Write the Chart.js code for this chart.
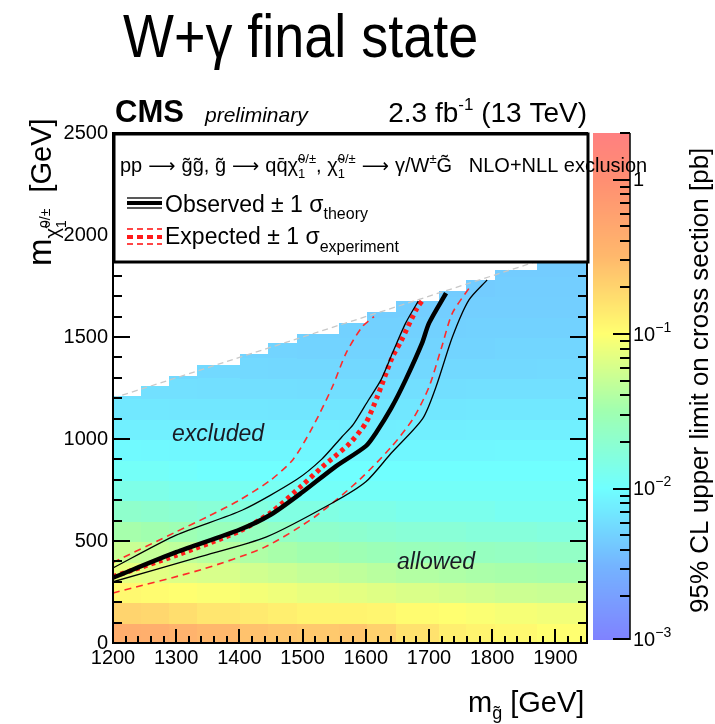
<!DOCTYPE html>
<html>
<head>
<meta charset="utf-8">
<script src="https://cdn.jsdelivr.net/npm/chart.js@4.4.0/dist/chart.umd.min.js"></script>
<style>
  body { margin: 0; background: #fff; }
  #wrap { width: 715px; height: 724px; position: relative; }
</style>
</head>
<body>
<div id="wrap"><canvas id="c" width="715" height="724"></canvas></div>
<script>
// limit map binning: gluino mass column edges and top of each column (GeV)
const gluinoEdges = [1200, 1245, 1290, 1334, 1401, 1446, 1492, 1558, 1602, 1648, 1716, 1760, 1806, 1872, 1950];
const columnTop = [1207, 1256, 1305, 1358, 1412, 1466, 1513, 1567, 1621, 1673, 1722, 1775, 1825, 1900];
// lower edge of each neutralino mass row (GeV), rows are 100 GeV high
const neutralinoRows = [0, 100, 200, 300, 400, 500, 600, 700, 800, 900, 1000, 1100, 1200, 1300, 1400, 1500, 1600, 1700, 1800];
// 95% CL upper limit on cross section [pb], one line per neutralino row
const limitMap = [
  [0.42, 0.40, 0.36, 0.32, 0.27, 0.25, 0.24, 0.25, 0.21, 0.16, 0.13, 0.12, 0.11, 0.10],
  [0.20, 0.19, 0.17, 0.15, 0.14, 0.13, 0.12, 0.12, 0.115, 0.105, 0.10, 0.095, 0.09, 0.085],
  [0.11, 0.105, 0.10, 0.095, 0.088, 0.082, 0.076, 0.072, 0.068, 0.064, 0.06, 0.057, 0.054, 0.052],
  [0.075, 0.07, 0.066, 0.062, 0.057, 0.053, 0.049, 0.046, 0.043, 0.040, 0.038, 0.036, 0.035, 0.034],
  [0.052, 0.049, 0.046, 0.042, 0.038, 0.035, 0.032, 0.030, 0.028, 0.027, 0.026, 0.025, 0.024, 0.023],
  [0.034, 0.032, 0.030, 0.027, 0.025, 0.023, 0.021, 0.020, 0.019, 0.018, 0.018, 0.017, 0.017, 0.016],
  [0.021, 0.020, 0.019, 0.018, 0.016, 0.015, 0.015, 0.014, 0.014, 0.013, 0.013, 0.013, 0.012, 0.012],
  [0.014, 0.014, 0.013, 0.013, 0.012, 0.012, 0.011, 0.011, 0.011, 0.011, 0.011, 0.011, 0.011, 0.011],
  [0.011, 0.011, 0.0105, 0.010, 0.010, 0.010, 0.010, 0.010, 0.010, 0.010, 0.010, 0.010, 0.010, 0.010],
  [0.0092, 0.0091, 0.0090, 0.0090, 0.0089, 0.0089, 0.0088, 0.0088, 0.0088, 0.0088, 0.0089, 0.0089, 0.0090, 0.0090],
  [0.0080, 0.0080, 0.0079, 0.0079, 0.0078, 0.0078, 0.0078, 0.0077, 0.0077, 0.0078, 0.0078, 0.0079, 0.0079, 0.0080],
  [0.0070, 0.0070, 0.0069, 0.0069, 0.0069, 0.0068, 0.0068, 0.0068, 0.0068, 0.0069, 0.0069, 0.0070, 0.0070, 0.0070],
  [0.0063, 0.0062, 0.0062, 0.0061, 0.0061, 0.0061, 0.0060, 0.0060, 0.0060, 0.0061, 0.0061, 0.0062, 0.0062, 0.0062],
  [0.0057, 0.0057, 0.0056, 0.0056, 0.0056, 0.0055, 0.0055, 0.0055, 0.0055, 0.0055, 0.0056, 0.0056, 0.0056, 0.0057],
  [0.0053, 0.0053, 0.0053, 0.0052, 0.0052, 0.0052, 0.0051, 0.0051, 0.0051, 0.0052, 0.0052, 0.0052, 0.0053, 0.0053],
  [0.0050, 0.0050, 0.0050, 0.0050, 0.0049, 0.0049, 0.0049, 0.0049, 0.0049, 0.0049, 0.0049, 0.0050, 0.0050, 0.0050],
  [0.0048, 0.0048, 0.0048, 0.0048, 0.0047, 0.0047, 0.0047, 0.0047, 0.0047, 0.0047, 0.0047, 0.0048, 0.0048, 0.0048],
  [0.0047, 0.0047, 0.0047, 0.0046, 0.0046, 0.0046, 0.0046, 0.0046, 0.0046, 0.0046, 0.0046, 0.0046, 0.0047, 0.0047],
  [0.0046, 0.0046, 0.0046, 0.0045, 0.0045, 0.0045, 0.0045, 0.0045, 0.0045, 0.0045, 0.0045, 0.0045, 0.0046, 0.0046]
];

// exclusion contours (m_gluino, m_neutralino) in GeV
const obsX = [1200, 1300, 1400, 1450, 1500, 1550, 1600, 1616, 1640, 1663, 1689, 1700, 1727];
const obsY = [320, 445, 555, 630, 740, 860, 965, 1030, 1150, 1290, 1470, 1568, 1715];
const obsUpX = [1200, 1300, 1405, 1490, 1530, 1562, 1580, 1604, 1624, 1642, 1663, 1683];
const obsUpY = [368, 529, 652, 800, 900, 1010, 1070, 1190, 1290, 1420, 1568, 1676];
const obsDnX = [1200, 1337, 1443, 1547, 1600, 1640, 1690, 1711, 1737, 1763, 1792];
const obsDnY = [300, 422, 520, 686, 790, 930, 1100, 1255, 1500, 1681, 1780];
const expX = [1200, 1300, 1400, 1450, 1500, 1531, 1550, 1575, 1600, 1618, 1642, 1655, 1681, 1690];
const expY = [325, 430, 548, 640, 775, 863, 912, 980, 1078, 1206, 1402, 1475, 1642, 1681];
const expUpX = [1200, 1300, 1350, 1400, 1450, 1485, 1516, 1547, 1569, 1594, 1613];
const expUpY = [395, 545, 620, 700, 800, 900, 1059, 1255, 1422, 1549, 1600];
const expDnX = [1200, 1340, 1440, 1520, 1590, 1640, 1675, 1700, 1720, 1737, 1767];
const expDnY = [245, 360, 470, 620, 800, 960, 1100, 1255, 1450, 1617, 1755];
const diagX = [1200, 1950];
const diagY = [1200, 1950];

// colour axis
const zTicks = [1, 0.1, 0.01, 0.001];
const zTickBase = ['1', '10', '10', '10'];
const zTickExp = ['', '\u22121', '\u22122', '\u22123'];

const FONT = '"Liberation Sans", Arial, Helvetica, sans-serif';
const ARROW_FONT = '"DejaVu Sans", sans-serif';

// pastel rainbow palette, stops in log10(pb)
const paletteStops = [
  [-3.0, [128, 128, 255]],
  [-2.5, [116, 180, 255]],
  [-2.0, [112, 255, 255]],
  [-1.5, [160, 255, 176]],
  [-1.0, [255, 255, 112]],
  [-0.5, [255, 184, 108]],
  [0.0, [255, 142, 114]],
  [0.3, [255, 128, 128]]
];

function colorFor(v) {
  const lv = Math.log10(v);
  if (lv <= paletteStops[0][0]) return 'rgb(' + paletteStops[0][1].join(',') + ')';
  for (let i = 1; i < paletteStops.length; i++) {
    const a = paletteStops[i - 1], b = paletteStops[i];
    if (lv <= b[0]) {
      const f = (lv - a[0]) / (b[0] - a[0]);
      const c = a[1].map((x, k) => Math.round(x + (b[1][k] - x) * f));
      return 'rgb(' + c.join(',') + ')';
    }
  }
  return 'rgb(' + paletteStops[paletteStops.length - 1][1].join(',') + ')';
}

function pts(xs, ys) {
  return xs.map((x, i) => ({x: x, y: ys[i]}));
}

// draws a run of text pieces: {t, size, dy, style, family} or {sup, sub, size, up, down}
function rich(ctx, x, y, parts) {
  let cx = x;
  parts.forEach(p => {
    if (p.sup !== undefined || p.sub !== undefined) {
      ctx.font = p.size + 'px ' + FONT;
      let w = 0;
      if (p.sup) { ctx.fillText(p.sup, cx, y - p.up); w = Math.max(w, ctx.measureText(p.sup).width); }
      if (p.sub) { ctx.fillText(p.sub, cx, y + p.down); w = Math.max(w, ctx.measureText(p.sub).width); }
      cx += w;
    } else {
      ctx.font = (p.style || '') + ' ' + p.size + 'px ' + (p.family || FONT);
      ctx.fillText(p.t, cx, y + (p.dy || 0));
      cx += ctx.measureText(p.t).width;
    }
  });
  return cx - x;
}

function richWidth(ctx, parts) {
  let w = 0;
  parts.forEach(p => { ctx.font = p.size + 'px ' + FONT; w += ctx.measureText(p.t).width; });
  return w;
}

// tick marks as thin filled rectangles
function hTick(ctx, x0, x1, y, w) {
  ctx.fillRect(Math.min(x0, x1), Math.round(y) - w / 2, Math.abs(x1 - x0), w);
}
function vTick(ctx, x, y0, y1, w) {
  ctx.fillRect(Math.round(x) - w / 2, Math.min(y0, y1), w, Math.abs(y1 - y0));
}

const heatmap = {
  id: 'heatmap',
  beforeDatasetsDraw(chart) {
    const ctx = chart.ctx, xs = chart.scales.x, ys = chart.scales.y;
    ctx.save();
    neutralinoRows.forEach((lo, r) => {
      for (let c = 0; c < gluinoEdges.length - 1; c++) {
        if (lo >= columnTop[c]) continue;
        const hi = Math.min(lo + 100, columnTop[c]);
        const x0 = xs.getPixelForValue(gluinoEdges[c]);
        const x1 = xs.getPixelForValue(gluinoEdges[c + 1]);
        const y0 = ys.getPixelForValue(lo);
        const y1 = ys.getPixelForValue(hi);
        ctx.fillStyle = colorFor(limitMap[r][c]);
        ctx.fillRect(Math.floor(x0), Math.floor(y1), Math.ceil(x1 - x0) + 1, Math.ceil(y0 - y1) + 1);
      }
    });
    ctx.restore();
  }
};

const decorations = {
  id: 'decorations',
  afterDraw(chart) {
    const ctx = chart.ctx, xs = chart.scales.x, ys = chart.scales.y, zs = chart.scales.z;
    const a = chart.chartArea;
    ctx.save();
    ctx.setLineDash([]);
    ctx.fillStyle = '#000';

    // inward ticks on the frame
    for (let v = 1200; v <= 1940; v += 20) {
      const px = xs.getPixelForValue(v);
      vTick(ctx, px, a.bottom, a.bottom - (v % 100 === 0 ? 14 : 7), 2);
    }
    for (let v = 0; v <= 2500; v += 100) {
      const py = ys.getPixelForValue(v);
      const len = v % 500 === 0 ? 17 : 9;
      hTick(ctx, a.left, a.left + len, py, 2);
      hTick(ctx, a.right - len, a.right, py, 2);
    }

    // frame
    ctx.strokeStyle = '#000';
    ctx.lineWidth = 2;
    ctx.strokeRect(a.left, a.top, a.right - a.left, a.bottom - a.top);

    // colour bar
    const cbL = 593, cbR = 630, cbB = zs.bottom - 3;
    for (let py = Math.ceil(zs.top); py < cbB; py++) {
      ctx.fillStyle = colorFor(zs.getValueForPixel(py + 0.5));
      ctx.fillRect(cbL, py, cbR - cbL, 1);
    }
    ctx.fillStyle = '#000';
    vTick(ctx, cbR, zs.top, cbB, 1.5);
    for (let e = -3; e <= 0; e++) {
      for (let m = 1; m <= 9; m++) {
        const v = m * Math.pow(10, e);
        if (v > zs.max) break;
        const py = Math.min(zs.getPixelForValue(v), cbB - 1);
        hTick(ctx, cbR - (m === 1 ? 17 : 10), cbR, py, 2);
      }
    }
    ctx.textBaseline = 'middle';
    zTicks.forEach((v, i) => {
      const py = Math.min(zs.getPixelForValue(v), cbB - 1);
      rich(ctx, 633, py + 1, [
        {t: zTickBase[i], size: 20},
        {t: zTickExp[i], size: 14, dy: -7}
      ]);
    });
    ctx.textBaseline = 'alphabetic';

    // legend box
    ctx.fillStyle = '#fff';
    ctx.fillRect(a.left, a.top, a.right - a.left + 1, 129);
    ctx.lineWidth = 3;
    ctx.strokeStyle = '#000';
    ctx.strokeRect(a.left + 1, a.top + 1, a.right - a.left, 128);
    ctx.fillStyle = '#000';
    ctx.textAlign = 'left';
    const ss = {size: 13, up: 9, down: 6, sup: '0/\u00b1', sub: '1'};
    const arrow = {t: ' \u27f6 ', size: 19, family: ARROW_FONT};
    rich(ctx, 120, 172, [
      {t: 'pp', size: 20},
      arrow,
      {t: 'g\u0303g\u0303, g\u0303', size: 20},
      arrow,
      {t: 'qq\u0304\u03c7\u0303', size: 20},
      ss,
      {t: ', \u03c7\u0303', size: 20},
      ss,
      arrow,
      {t: '\u03b3/W', size: 20},
      {t: '\u00b1', size: 13, dy: -9},
      {t: 'G\u0303', size: 20},
      {t: '   NLO+NLL exclusion', size: 20}
    ]);
    // legend symbols
    hTick(ctx, 127, 162, 198, 1.3);
    hTick(ctx, 127, 162, 208, 1.3);
    hTick(ctx, 127, 162, 203, 4);
    ctx.fillStyle = '#ff1a1a';
    for (let x = 127; x < 162; x += 10) {
      hTick(ctx, x, Math.min(x + 6, 162), 229, 1.6);
      hTick(ctx, x, Math.min(x + 6, 162), 244, 1.6);
      hTick(ctx, x, Math.min(x + 6, 162), 236.5, 4);
    }
    ctx.fillStyle = '#000';
    rich(ctx, 165, 212, [
      {t: 'Observed \u00b1 1 \u03c3', size: 23},
      {t: 'theory', size: 16, dy: 7}
    ]);
    rich(ctx, 165, 244, [
      {t: 'Expected \u00b1 1 \u03c3', size: 23},
      {t: 'experiment', size: 16, dy: 8}
    ]);

    // region labels
    ctx.fillStyle = '#1a1a24';
    ctx.font = 'italic 23px ' + FONT;
    ctx.fillText('excluded', 172, 441);
    ctx.fillText('allowed', 397, 569);
    ctx.fillStyle = '#000';

    // slide title
    ctx.save();
    ctx.translate(123, 57);
    ctx.scale(0.87, 1);
    ctx.font = '62px ' + FONT;
    ctx.fillText('W+\u03b3 final state', 0, 0);
    ctx.restore();

    // CMS header
    ctx.font = 'bold 31px ' + FONT;
    ctx.fillText('CMS', 115, 122);
    ctx.font = 'italic 21px ' + FONT;
    ctx.fillText('preliminary', 205, 122);
    const lumiParts = [
      {t: '2.3 fb', size: 28},
      {t: '-1', size: 17, dy: -12},
      {t: ' (13 TeV)', size: 28}
    ];
    rich(ctx, 587 - richWidth(ctx, lumiParts), 122, lumiParts);

    // x axis title
    rich(ctx, 468, 712, [
      {t: 'm', size: 29},
      {t: 'g\u0303', size: 18, dy: 7},
      {t: ' [GeV]', size: 29}
    ]);

    // y axis title
    ctx.save();
    ctx.translate(51, 266);
    ctx.rotate(-Math.PI / 2);
    rich(ctx, 0, 0, [
      {t: 'm', size: 33},
      {t: '\u03c7\u0303', size: 20, dy: 8},
      {size: 14, up: 1, down: 15, sup: '0/\u00b1', sub: '1'},
      {t: '  [GeV]', size: 29}
    ]);
    ctx.restore();

    // colour axis title
    ctx.save();
    ctx.translate(708, 613);
    ctx.rotate(-Math.PI / 2);
    ctx.font = '26px ' + FONT;
    ctx.fillText('95% CL upper limit on cross section [pb]', 0, 0);
    ctx.restore();

    ctx.restore();
  }
};

const lineDs = (label, xs, ys, color, width, dash) => ({
  label: label,
  data: pts(xs, ys),
  showLine: true,
  borderColor: color,
  borderWidth: width,
  borderDash: dash,
  pointRadius: 0,
  tension: 0.25,
  fill: false
});

new Chart(document.getElementById('c'), {
  type: 'scatter',
  data: {
    datasets: [
      lineDs('Observed', obsX, obsY, '#000', 4.5, []),
      lineDs('Observed +1 sigma', obsUpX, obsUpY, '#000', 1.3, []),
      lineDs('Observed -1 sigma', obsDnX, obsDnY, '#000', 1.3, []),
      lineDs('Expected', expX, expY, '#ff1a1a', 5, [4, 4]),
      lineDs('Expected +1 sigma', expUpX, expUpY, '#ff2a2a', 1.6, [7, 5]),
      lineDs('Expected -1 sigma', expDnX, expDnY, '#ff2a2a', 1.6, [7, 5]),
      lineDs('m_chi = m_gluino', diagX, diagY, '#c8c8c8', 1.3, [6, 4])
    ]
  },
  options: {
    responsive: false,
    animation: false,
    devicePixelRatio: 1,
    layout: {padding: {left: 0, right: 128, top: 133, bottom: 0}},
    plugins: {legend: {display: false}, tooltip: {enabled: false}},
    scales: {
      x: {
        type: 'linear', min: 1200, max: 1950,
        grid: {display: false, drawTicks: false},
        border: {display: false},
        ticks: {stepSize: 100, includeBounds: false, padding: 3, color: '#000',
                font: {family: FONT, size: 20}, callback: v => String(v)},
        afterFit(s) { s.height = 81; }
      },
      y: {
        type: 'linear', min: 0, max: 2500,
        grid: {display: false, drawTicks: false},
        border: {display: false},
        ticks: {stepSize: 500, padding: 5, color: '#000',
                font: {family: FONT, size: 20}, callback: v => String(v)},
        afterFit(s) { s.width = 113; }
      },
      z: {
        type: 'logarithmic', axis: 'y', position: 'right', display: false, min: 0.001, max: 2
      }
    }
  },
  plugins: [heatmap, decorations]
});
</script>
</body>
</html>
